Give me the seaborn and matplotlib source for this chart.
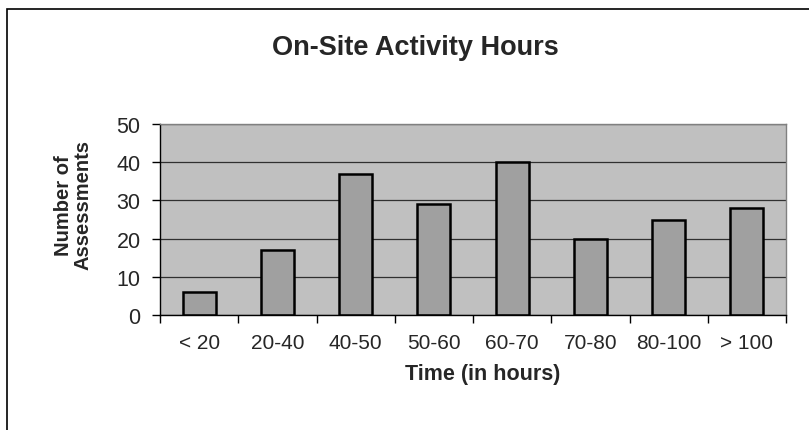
import matplotlib
matplotlib.use("Agg")
import matplotlib.pyplot as plt
import seaborn as sns
import numpy as np
import pandas as pd
from matplotlib.patches import Rectangle

categories = ['< 20', '20-40', '40-50', '50-60', '60-70', '70-80', '80-100', '> 100']
counts = [6, 17, 37, 29, 40, 20, 25, 28]

sns.set_style("white")
plt.rcParams['font.family'] = ['Liberation Sans', 'DejaVu Sans']

df = pd.DataFrame({'time': categories, 'count': counts})

fig = plt.figure(figsize=(8.09, 4.31), dpi=100)
# plot area in pixels: x 160-786, y 125-316
ax = fig.add_axes([160 / 809, 1 - 316 / 431, (786 - 160) / 809, (316 - 125) / 431])
ax.set_facecolor('#C0C0C0')

sns.barplot(data=df, x='time', y='count', ax=ax, color='#A0A0A0',
            width=0.42, edgecolor='black', linewidth=1.8, saturation=1)

ax.set_ylim(0, 50)
ax.set_xlim(-0.5, len(categories) - 0.5)
ax.set_yticks(range(0, 51, 10))
ax.yaxis.grid(True, color='#303030', linewidth=0.9)
ax.set_axisbelow(True)

# ticks between categories
ax.set_xticks(np.arange(-0.5, len(categories), 1.0), minor=True)
ax.tick_params(axis='x', which='major', length=0, pad=13, labelsize=15)
ax.tick_params(axis='x', which='minor', length=6, width=1, color='black', direction='out', bottom=True)
ax.tick_params(axis='y', length=6, width=1, color='black', direction='out', left=True, labelsize=15.5, pad=8)

for side in ['top', 'right']:
    ax.spines[side].set_color('#808080')
    ax.spines[side].set_linewidth(1)
for side in ['left', 'bottom']:
    ax.spines[side].set_color('black')
    ax.spines[side].set_linewidth(1)

ax.set_xlabel('Time (in hours)', fontsize=15.5, fontweight='bold')
ax.xaxis.set_label_coords(0.516, -0.25)
ax.set_ylabel('Number of\nAssessments', fontsize=14.5, fontweight='bold', linespacing=1.0)
ax.yaxis.set_label_coords(-0.108, 0.58)

fig.text(415 / 809, 1 - 48 / 431, 'On-Site Activity Hours',
         ha='center', va='center', fontsize=19.5, fontweight='bold')

# outer chart border
fig.patches.append(Rectangle((7 / 809, -0.05), 1.1, 1 - 10 / 431 + 0.05,
                             transform=fig.transFigure, fill=False,
                             edgecolor='black', linewidth=1.2))

fig.savefig('out.png', dpi=100)
